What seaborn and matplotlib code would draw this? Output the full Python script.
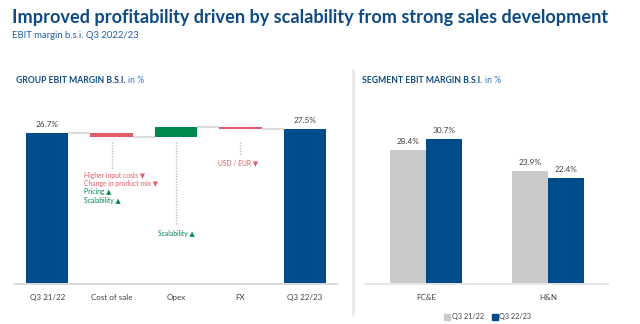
import matplotlib
matplotlib.use("Agg")
import matplotlib.pyplot as plt
from matplotlib.lines import Line2D
import seaborn as sns
import pandas as pd
import numpy as np

sns.set_theme(style="white")
plt.rcParams['font.family'] = ['Lato', 'DejaVu Sans']

# ---------------- data ----------------
wf_categories = ["Q3 21/22", "Cost of sale", "Opex", "FX", "Q3 22/23"]
wf_start = 26.7
wf_deltas = [-0.6, 1.6, -0.2]          # Cost of sale, Opex, FX
wf_end = 27.5
wf_value_labels = ["26.7%", "27.5%"]

seg_categories = ["FC&E", "H&N"]
seg_periods = ["Q3 21/22", "Q3 22/23"]
seg_prev = [28.4, 23.9]
seg_curr = [30.7, 22.4]

title = "Improved profitability driven by scalability from strong sales development"
subtitle = "EBIT margin b.s.i. Q3 2022/23"

BLUE = "#004C8A"
GRAY = "#C9C9C9"
RED = "#E45A67"
GREEN = "#00884F"
DARK = "#0E4A84"
LIGHTBLUE = "#2F78BE"
TXT = "#404040"

W, H = 640, 324
fig = plt.figure(figsize=(6.4, 3.24), dpi=100)
renderer = fig.canvas.get_renderer()

def fx(x): return x / W
def fy(y): return 1 - y / H

def fit_size(s, target_px, weight="normal"):
    t = fig.text(0, 0, s, fontsize=10, fontweight=weight)
    w = t.get_window_extent(renderer).width
    t.remove()
    return 10 * target_px / w

# font sizes fitted to reference text widths
fs_title = fit_size(title, 598, "bold")
fs_sub = fit_size(subtitle, 126)
fs_tick = fit_size("Cost of sale", 41)
fs_val = fit_size("26.7%", 23)
fs_ann = fit_size("Change in product mix \u25BC", 74)
fs_leg = fit_size("Q3 21/22", 32)

# ---------------- header ----------------
fig.text(fx(12), fy(17), title, fontsize=fs_title, fontweight="bold", color=DARK, va="center", ha="left")
fig.text(fx(12), fy(36), subtitle, fontsize=fs_sub, color="#1F5FA8", va="center", ha="left")

def panel_title(x, y, bold, rest, total_px):
    size = fit_size(bold + " " + rest, total_px, "bold")
    t = fig.text(fx(x), fy(y), bold, fontsize=size, fontweight="bold", color=DARK, va="center", ha="left")
    bb = t.get_window_extent(renderer)
    fig.text(bb.x1 / W + 3 / W, fy(y), rest, fontsize=size, color=LIGHTBLUE, va="center", ha="left")

# ---------------- left: waterfall ----------------
top_px = 110
base_px = 284
axL = fig.add_axes([fx(15), fy(base_px), (337 - 15) / W, (base_px - top_px) / H])
ppu_L = 5.65
axL.set_ylim(0, (base_px - top_px) / ppu_L)
axL.set_xlim(-0.516, 4.516)

tot_df = pd.DataFrame({"cat": [wf_categories[0], wf_categories[-1]], "val": [wf_start, wf_end]})
bw = 0.66
sns.barplot(data=tot_df, x="cat", y="val", order=wf_categories, color=BLUE, width=bw,
            saturation=1, ax=axL, edgecolor="none")

levels = [wf_start]
for d in wf_deltas:
    levels.append(levels[-1] + d)
for i, d in enumerate(wf_deltas):
    lo = min(levels[i], levels[i + 1])
    axL.bar(i + 1, abs(d), bottom=lo, width=bw, color=GREEN if d > 0 else RED, edgecolor="none", zorder=3)
levels_for_conn = levels + [wf_end]
for i in range(4):
    axL.plot([i + bw / 2, i + 1 - bw / 2], [levels_for_conn[i], levels_for_conn[i]],
             color="#DCDCDC", lw=1.6, zorder=2, solid_capstyle="butt")

for xi, v, lab in [(0, wf_start, wf_value_labels[0]), (4, wf_end, wf_value_labels[1])]:
    axL.annotate(lab, (xi, v), xytext=(0, 3.5), textcoords="offset points", ha="center", va="bottom",
                 fontsize=fs_val, color=TXT)

def ydat(ypx): return (base_px - ypx) / ppu_L
def xdat(xpx): return (xpx - 48) / 64

# dotted leader lines
for xc, y0, y1 in [(1, 141.7, 170), (2, 141.7, 225), (3, 141.7, 155)]:
    axL.plot([xc, xc], [ydat(y0), ydat(y1)], color="#BDBDBD", lw=1.0, ls=(0, (1, 1)), zorder=1)

cos_lines = [("Higher input costs \u25BC", RED), ("Change in product mix \u25BC", RED),
             ("Pricing \u25B2", GREEN), ("Scalability \u25B2", GREEN)]
for (txt, c), ypx in zip(cos_lines, [176, 184, 192, 200.7]):
    axL.text(xdat(85), ydat(ypx), txt, color=c, fontsize=fs_ann, ha="left", va="center")
axL.text(2, ydat(233.3), "Scalability \u25B2", color=GREEN, fontsize=fs_ann, ha="center", va="center")
axL.text(xdat(238), ydat(162.3), "USD / EUR \u25BC", color=RED, fontsize=fs_ann, ha="center", va="center")

axL.set_xlabel("")
axL.set_ylabel("")
axL.set_yticks([])
axL.tick_params(axis="x", length=0, labelsize=fs_tick, labelcolor=TXT, pad=7)
for s in ["top", "right", "left"]:
    axL.spines[s].set_visible(False)
axL.spines["bottom"].set_color("#D9D9D9")
axL.spines["bottom"].set_linewidth(1.4)

panel_title(16, 80.7, "GROUP EBIT MARGIN B.S.I.", "in %", 128)

# separator
fig.add_artist(Line2D([fx(352.7), fx(352.7)], [fy(70), fy(315)], color="#E8E8E8", lw=1.8))

# ---------------- right: segments ----------------
axR = fig.add_axes([fx(365), fy(base_px), (608 - 365) / W, (base_px - top_px) / H])
ppu_R = 4.72
axR.set_ylim(0, (base_px - top_px) / ppu_R)

seg_df = pd.DataFrame({
    "seg": seg_categories * 2,
    "period": [seg_periods[0]] * 2 + [seg_periods[1]] * 2,
    "val": seg_prev + seg_curr,
})
sns.barplot(data=seg_df, x="seg", y="val", hue="period", hue_order=seg_periods,
            palette=[GRAY, BLUE], width=0.59, saturation=1, ax=axR, edgecolor="none", legend=False)
axR.set_xlim(-0.5, 1.49)
for cont in axR.containers:
    axR.bar_label(cont, labels=[f"{v:.1f}%" for v in cont.datavalues], padding=3.5,
                  fontsize=fs_val, color=TXT)

axR.set_xlabel("")
axR.set_ylabel("")
axR.set_yticks([])
axR.tick_params(axis="x", length=0, labelsize=fs_tick, labelcolor=TXT, pad=7)
for s in ["top", "right", "left"]:
    axR.spines[s].set_visible(False)
axR.spines["bottom"].set_color("#E6E6E6")
axR.spines["bottom"].set_linewidth(1.4)

handles = [Line2D([], [], marker="s", ls="", color=GRAY, markersize=5),
           Line2D([], [], marker="s", ls="", color=BLUE, markersize=5)]
fig.legend(handles, seg_periods, loc="center", bbox_to_anchor=(fx(488), fy(316.7)), ncol=2,
           frameon=False, fontsize=fs_leg, handlelength=0.6, handletextpad=0.3, columnspacing=1.2,
           labelcolor=TXT, borderpad=0)

panel_title(362, 80.7, "SEGMENT EBIT MARGIN B.S.I.", "in %", 139)

fig.savefig("out.png", dpi=100)
